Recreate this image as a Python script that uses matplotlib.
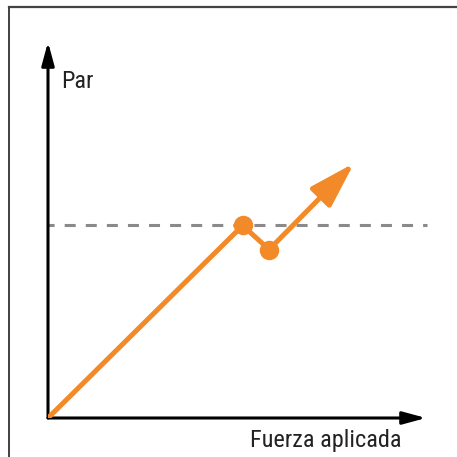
import matplotlib
matplotlib.use("Agg")
import matplotlib.pyplot as plt
from matplotlib.lines import Line2D

# Torque vs. applied force: linear rise, a drop at the limit, then rising again
x_path = [0.0, 5.15, 5.85]
y_path = [0.0, 5.12, 4.48]
x_end, y_end = 8.1, 6.78
threshold = 5.12
x_label = "Fuerza aplicada"
y_label = "Par"

orange = "#F28A2A"
text_font = ["Roboto Condensed", "Archivo Narrow", "DejaVu Sans"]

W = H = 457
fig = plt.figure(figsize=(W / 100, H / 100), dpi=100)
ax = fig.add_axes([48 / W, (H - 418) / H, 378 / W, 376 / H])
ax.set_xlim(0, 10)
ax.set_ylim(0, 10)
ax.axis("off")

# frame around the panel (only its left and top edges fall inside the image)
fig.add_artist(Line2D([9 / W, 9 / W], [0, 1 - 7 / H], transform=fig.transFigure,
                      color="#333333", lw=1.3))
fig.add_artist(Line2D([9 / W, 1], [1 - 7 / H, 1 - 7 / H], transform=fig.transFigure,
                      color="#444444", lw=1.6))

# axes with arrow heads
axis_arrow = dict(arrowstyle="-|>,head_length=1.4,head_width=0.38", color="black",
                  lw=2.2, shrinkA=0, shrinkB=0)
ax.annotate("", xy=(0, 1.0), xytext=(0, 0), xycoords="axes fraction",
            arrowprops=axis_arrow, annotation_clip=False)
ax.annotate("", xy=(1.0, 0), xytext=(0, 0), xycoords="axes fraction",
            arrowprops=axis_arrow, annotation_clip=False)

# threshold level
ax.plot([0, 10.03], [threshold, threshold], color="#8a8a8a", lw=2.2,
        linestyle=(1.6, (3.6, 3.3)), clip_on=False, zorder=1)

# torque curve
ax.plot(x_path, y_path, color=orange, lw=3.6, solid_capstyle="butt", zorder=3)
ax.plot(x_path[1:], y_path[1:], "o", color=orange, ms=13, zorder=4)
ax.annotate("", xy=(x_end, y_end), xytext=(x_path[-1], y_path[-1]),
            arrowprops=dict(arrowstyle="-|>,head_length=2.8,head_width=0.85",
                            color=orange, lw=3.6, shrinkA=0, shrinkB=0),
            zorder=3)

ax.text(13 / 378, (418 - 88) / 376, y_label, transform=ax.transAxes, fontsize=17.5,
        family=text_font, color="#222222", va="baseline", ha="left")
ax.text(354 / 378, (418 - 447.5) / 376, x_label, transform=ax.transAxes, fontsize=17.5,
        family=text_font, color="#222222", va="baseline", ha="right")

fig.savefig("out.png", dpi=100)
